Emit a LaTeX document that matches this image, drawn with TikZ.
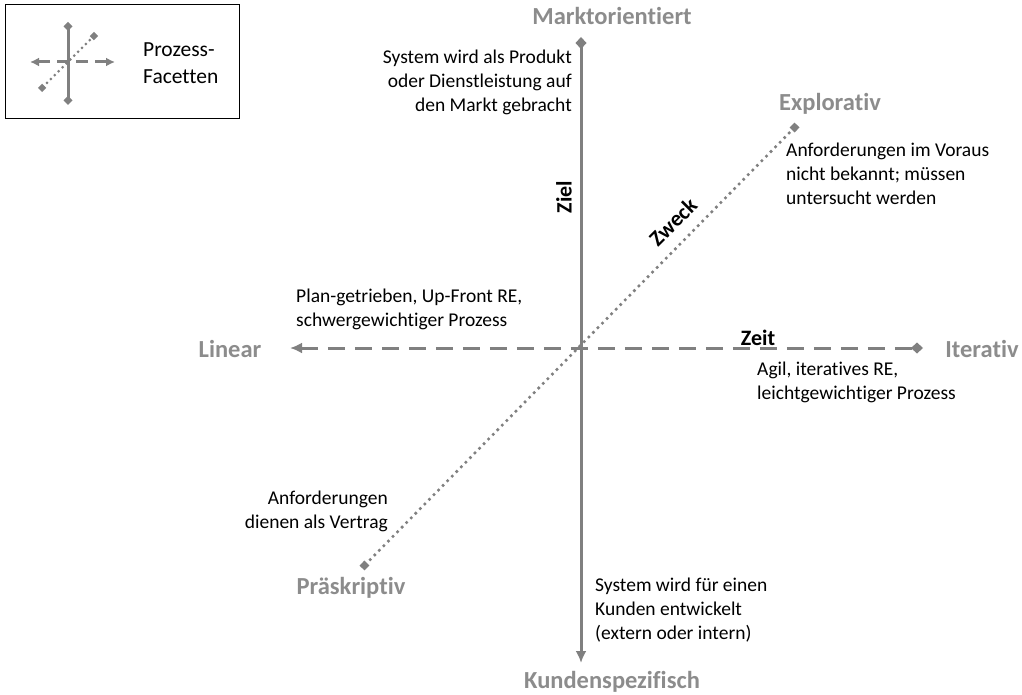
\documentclass[tikz,border=0pt]{standalone}
\usepackage{fontspec}
\setmainfont{Carlito}[Ligatures=NoCommon]
\usepackage{xcolor}
\usepackage{tikz}
\usetikzlibrary{arrows.meta,positioning}
\definecolor{facetgray}{HTML}{808080}
\definecolor{labelgray}{HTML}{8C8C8C}
\tikzset{
  polename/.style={font=\fontsize{24.5}{28}\selectfont\bfseries, text=labelgray, inner sep=0pt},
  facetname/.style={font=\fontsize{22}{26}\selectfont\bfseries, text=black, inner sep=0pt},
  note/.style={font=\fontsize{19.5}{24}\selectfont, align=left, inner sep=0pt},
  solidaxis/.style={{Latex[length=12pt,width=11pt]}-{Diamond[length=12pt,width=11pt]}, line width=3pt, draw=facetgray},
  dashedaxis/.style={{Latex[length=12pt,width=11pt]}-{Diamond[length=12pt,width=11pt]}, line width=3pt, draw=facetgray, dash pattern=on 17pt off 10pt},
  dottedaxis/.style={{Square[length=7pt,width=7pt]}-{Square[length=7pt,width=7pt]}, line width=3.6pt, draw=facetgray, line cap=round, dash pattern=on 0pt off 6.5pt}
}
\begin{document}
\begin{tikzpicture}[x=1pt,y=-1pt]
  \useasboundingbox (0,0) rectangle (1022,695);
  % legend
  \node[draw=black, line width=1pt, minimum width=234pt, minimum height=114pt, inner sep=0pt] (legend) at (122,62) {};
  \coordinate (lgN) at (68,22);
  \coordinate (lgS) at (68,105);
  \coordinate (lgW) at (30,62);
  \coordinate (lgE) at (115,62);
  \coordinate (lgSW) at (40,90);
  \coordinate (lgNE) at (96,34);
  \draw[dashedaxis, dash pattern=on 12pt off 7pt, {Latex[length=9pt,width=9pt]}-{Latex[length=9pt,width=9pt]}] (lgW) -- (lgE);
  \draw[dottedaxis, line width=3pt, dash pattern=on 0pt off 5.5pt, {Square[length=6pt,width=6pt]}-{Square[length=6pt,width=6pt]}] (lgSW) -- (lgNE);
  \draw[solidaxis, {Diamond[length=9pt,width=9pt]}-{Diamond[length=9pt,width=9pt]}] (lgS) -- (lgN);
  \node[note, font=\fontsize{21.5}{27}\selectfont, anchor=west] (legtext) at (143,63) {Prozess-\\Facetten};
  % axes
  \coordinate (top) at (581,37);
  \coordinate (bottom) at (581,663);
  \coordinate (left) at (290,348);
  \coordinate (right) at (923,348);
  \coordinate (lowleft) at (362,568);
  \coordinate (upright) at (797,125);
  \draw[solidaxis] (bottom) -- (top);
  \draw[dashedaxis] (left) -- (right);
  \draw[dottedaxis] (lowleft) -- (upright);
  % pole names
  \node[polename] (markt) at (612,16) {Marktorientiert};
  \node[polename] (kunde) at (612,682) {Kundenspezifisch};
  \node[polename] (linear) at (230,349) {Linear};
  \node[polename] (iterativ) at (982,349) {Iterativ};
  \node[polename] (explorativ) at (830,104) {Explorativ};
  \node[polename] (praeskriptiv) at (351,588) {Präskriptiv};
  % facet names
  \node[facetname, rotate=45] (zweck) at (673,222) {Zweck};
  \node[facetname, rotate=90] (ziel) at (564,197) {Ziel};
  \node[facetname] (zeit) at (758,338) {Zeit};
  % notes
  \node[note, align=right, anchor=north east] (marktnote) at (572,50) {System wird als Produkt\\oder Dienstleistung auf\\den Markt gebracht};
  \node[note, anchor=north west] (explnote) at (786,143) {Anforderungen im Voraus\\nicht bekannt; müssen\\untersucht werden};
  \node[note, anchor=north west] (linnote) at (296,289) {Plan-getrieben, Up-Front RE,\\schwergewichtiger Prozess};
  \node[note, anchor=north west] (iternote) at (757,362) {Agil, iteratives RE,\\leichtgewichtiger Prozess};
  \node[note, align=right, anchor=north east] (praenote) at (388,491) {Anforderungen\\dienen als Vertrag};
  \node[note, anchor=north west] (kundenote) at (595,578) {System wird für einen\\Kunden entwickelt\\(extern oder intern)};
\end{tikzpicture}
\end{document}
